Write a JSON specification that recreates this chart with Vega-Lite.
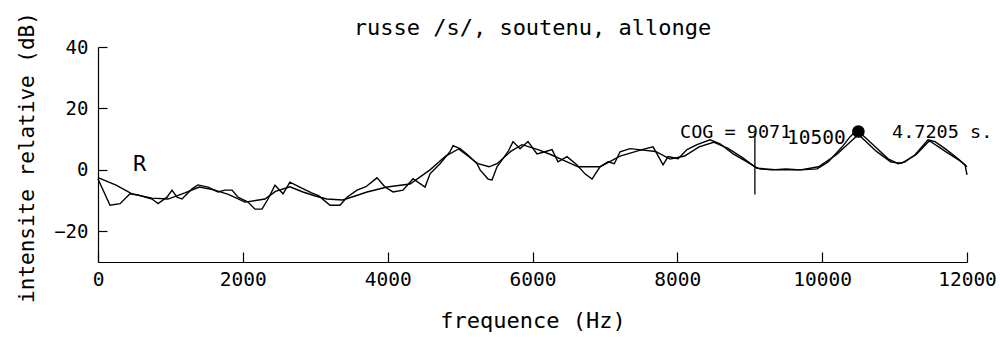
{
  "$schema": "https://vega.github.io/schema/vega-lite/v6.json",
  "autosize": "none",
  "width": 869,
  "height": 215,
  "padding": {"left": 98, "top": 47, "right": 33, "bottom": 77},
  "background": "white",
  "config": {
    "view": {"stroke": null},
    "font": "DejaVu Sans Mono",
    "axis": {
      "grid": false,
      "domainColor": "black",
      "tickColor": "black",
      "labelColor": "black",
      "titleColor": "black",
      "labelFont": "DejaVu Sans Mono",
      "titleFont": "DejaVu Sans Mono",
      "titleFontWeight": "normal",
      "domainWidth": 1.2,
      "tickWidth": 1.2
    }
  },
  "title": {
    "text": "russe /s/, soutenu, allonge",
    "font": "DejaVu Sans Mono",
    "fontSize": 22,
    "fontWeight": "normal",
    "color": "black",
    "anchor": "middle",
    "frame": "group",
    "baseline": "alphabetic",
    "offset": 0,
    "dy": 45
  },
  "datasets": {
    "spectrum": [
      {"series": "raw", "f": 0, "db": -3},
      {"series": "raw", "f": 166, "db": -11.5},
      {"series": "raw", "f": 304, "db": -11},
      {"series": "raw", "f": 442, "db": -7.8},
      {"series": "raw", "f": 552, "db": -8.2},
      {"series": "raw", "f": 746, "db": -9.5},
      {"series": "raw", "f": 829, "db": -11},
      {"series": "raw", "f": 953, "db": -8.9},
      {"series": "raw", "f": 1022, "db": -6.6},
      {"series": "raw", "f": 1091, "db": -8.9},
      {"series": "raw", "f": 1160, "db": -9.5},
      {"series": "raw", "f": 1298, "db": -6.2},
      {"series": "raw", "f": 1381, "db": -4.9},
      {"series": "raw", "f": 1519, "db": -5.6},
      {"series": "raw", "f": 1657, "db": -7.2},
      {"series": "raw", "f": 1754, "db": -6.6},
      {"series": "raw", "f": 1851, "db": -6.6},
      {"series": "raw", "f": 1933, "db": -8.9},
      {"series": "raw", "f": 2071, "db": -10.5},
      {"series": "raw", "f": 2168, "db": -12.8},
      {"series": "raw", "f": 2265, "db": -12.8},
      {"series": "raw", "f": 2348, "db": -9.5},
      {"series": "raw", "f": 2444, "db": -5},
      {"series": "raw", "f": 2555, "db": -7.8},
      {"series": "raw", "f": 2650, "db": -4},
      {"series": "raw", "f": 2800, "db": -5.8},
      {"series": "raw", "f": 2950, "db": -7.5},
      {"series": "raw", "f": 3050, "db": -8.5},
      {"series": "raw", "f": 3204, "db": -11.5},
      {"series": "raw", "f": 3342, "db": -11.5},
      {"series": "raw", "f": 3439, "db": -8.9},
      {"series": "raw", "f": 3577, "db": -6.6},
      {"series": "raw", "f": 3700, "db": -5.5},
      {"series": "raw", "f": 3853, "db": -2.6},
      {"series": "raw", "f": 3963, "db": -5.6},
      {"series": "raw", "f": 4074, "db": -7.2},
      {"series": "raw", "f": 4212, "db": -6.6},
      {"series": "raw", "f": 4350, "db": -2.9},
      {"series": "raw", "f": 4516, "db": -5.6},
      {"series": "raw", "f": 4585, "db": -1.3},
      {"series": "raw", "f": 4723, "db": 2},
      {"series": "raw", "f": 4861, "db": 5.9},
      {"series": "raw", "f": 4903, "db": 7.9},
      {"series": "raw", "f": 5000, "db": 6.9},
      {"series": "raw", "f": 5100, "db": 5},
      {"series": "raw", "f": 5234, "db": 2},
      {"series": "raw", "f": 5276, "db": 0},
      {"series": "raw", "f": 5386, "db": -3},
      {"series": "raw", "f": 5441, "db": -3.3},
      {"series": "raw", "f": 5510, "db": 1},
      {"series": "raw", "f": 5662, "db": 5.9},
      {"series": "raw", "f": 5731, "db": 9.2},
      {"series": "raw", "f": 5828, "db": 6.9},
      {"series": "raw", "f": 5938, "db": 9.2},
      {"series": "raw", "f": 6062, "db": 5.2},
      {"series": "raw", "f": 6173, "db": 5.9},
      {"series": "raw", "f": 6270, "db": 6.6},
      {"series": "raw", "f": 6352, "db": 2.6},
      {"series": "raw", "f": 6477, "db": 4.3},
      {"series": "raw", "f": 6615, "db": 1.6},
      {"series": "raw", "f": 6725, "db": -1.3},
      {"series": "raw", "f": 6822, "db": -3},
      {"series": "raw", "f": 6932, "db": 1},
      {"series": "raw", "f": 7043, "db": 2.6},
      {"series": "raw", "f": 7130, "db": 2},
      {"series": "raw", "f": 7209, "db": 5.9},
      {"series": "raw", "f": 7347, "db": 6.9},
      {"series": "raw", "f": 7500, "db": 6.5},
      {"series": "raw", "f": 7665, "db": 7.5},
      {"series": "raw", "f": 7803, "db": 1.6},
      {"series": "raw", "f": 7872, "db": 4.3},
      {"series": "raw", "f": 8010, "db": 3.6},
      {"series": "raw", "f": 8134, "db": 6.6},
      {"series": "raw", "f": 8272, "db": 8.2},
      {"series": "raw", "f": 8452, "db": 9.8},
      {"series": "raw", "f": 8590, "db": 8.5},
      {"series": "raw", "f": 8770, "db": 5.2},
      {"series": "raw", "f": 8963, "db": 2.6},
      {"series": "raw", "f": 9073, "db": 1},
      {"series": "raw", "f": 9142, "db": 0.3},
      {"series": "raw", "f": 9300, "db": 0},
      {"series": "raw", "f": 9500, "db": 0.3},
      {"series": "raw", "f": 9700, "db": 0},
      {"series": "raw", "f": 9930, "db": 0.3},
      {"series": "raw", "f": 10083, "db": 2.6},
      {"series": "raw", "f": 10276, "db": 7.5},
      {"series": "raw", "f": 10387, "db": 10.8},
      {"series": "raw", "f": 10480, "db": 13},
      {"series": "raw", "f": 10621, "db": 10},
      {"series": "raw", "f": 10773, "db": 6.6},
      {"series": "raw", "f": 10911, "db": 3.6},
      {"series": "raw", "f": 11049, "db": 2},
      {"series": "raw", "f": 11145, "db": 2.6},
      {"series": "raw", "f": 11283, "db": 4.9},
      {"series": "raw", "f": 11462, "db": 9.8},
      {"series": "raw", "f": 11559, "db": 9.2},
      {"series": "raw", "f": 11697, "db": 6.9},
      {"series": "raw", "f": 11877, "db": 3.6},
      {"series": "raw", "f": 11973, "db": 1.6},
      {"series": "raw", "f": 12000, "db": -1.6},
      {"series": "smooth", "f": 0, "db": -2.5},
      {"series": "smooth", "f": 250, "db": -5},
      {"series": "smooth", "f": 470, "db": -7.8},
      {"series": "smooth", "f": 746, "db": -9.2},
      {"series": "smooth", "f": 967, "db": -9.5},
      {"series": "smooth", "f": 1200, "db": -7.5},
      {"series": "smooth", "f": 1400, "db": -5.6},
      {"series": "smooth", "f": 1600, "db": -6.5},
      {"series": "smooth", "f": 1800, "db": -8},
      {"series": "smooth", "f": 2030, "db": -10.5},
      {"series": "smooth", "f": 2306, "db": -9.5},
      {"series": "smooth", "f": 2450, "db": -7},
      {"series": "smooth", "f": 2650, "db": -5.5},
      {"series": "smooth", "f": 2831, "db": -7.2},
      {"series": "smooth", "f": 3000, "db": -8.5},
      {"series": "smooth", "f": 3160, "db": -9.5},
      {"series": "smooth", "f": 3380, "db": -9.8},
      {"series": "smooth", "f": 3550, "db": -8.5},
      {"series": "smooth", "f": 3715, "db": -7.2},
      {"series": "smooth", "f": 3991, "db": -5.6},
      {"series": "smooth", "f": 4309, "db": -4.6},
      {"series": "smooth", "f": 4585, "db": 0},
      {"series": "smooth", "f": 4800, "db": 4.5},
      {"series": "smooth", "f": 4980, "db": 6.8},
      {"series": "smooth", "f": 5248, "db": 2},
      {"series": "smooth", "f": 5400, "db": 1},
      {"series": "smooth", "f": 5510, "db": 2},
      {"series": "smooth", "f": 5700, "db": 6},
      {"series": "smooth", "f": 5855, "db": 8.2},
      {"series": "smooth", "f": 6076, "db": 6.6},
      {"series": "smooth", "f": 6250, "db": 5},
      {"series": "smooth", "f": 6408, "db": 3.3},
      {"series": "smooth", "f": 6629, "db": 1},
      {"series": "smooth", "f": 6932, "db": 1},
      {"series": "smooth", "f": 7209, "db": 4.5},
      {"series": "smooth", "f": 7500, "db": 6.5},
      {"series": "smooth", "f": 7700, "db": 6},
      {"series": "smooth", "f": 7900, "db": 3.5},
      {"series": "smooth", "f": 8100, "db": 4.5},
      {"series": "smooth", "f": 8300, "db": 7.5},
      {"series": "smooth", "f": 8500, "db": 9},
      {"series": "smooth", "f": 8700, "db": 7},
      {"series": "smooth", "f": 8900, "db": 4},
      {"series": "smooth", "f": 9100, "db": 0.5},
      {"series": "smooth", "f": 9400, "db": 0},
      {"series": "smooth", "f": 9700, "db": 0},
      {"series": "smooth", "f": 9950, "db": 1},
      {"series": "smooth", "f": 10200, "db": 5},
      {"series": "smooth", "f": 10500, "db": 11.5},
      {"series": "smooth", "f": 10750, "db": 6},
      {"series": "smooth", "f": 10950, "db": 2.5},
      {"series": "smooth", "f": 11100, "db": 2.2},
      {"series": "smooth", "f": 11300, "db": 5},
      {"series": "smooth", "f": 11480, "db": 9.5},
      {"series": "smooth", "f": 11700, "db": 6},
      {"series": "smooth", "f": 11900, "db": 3},
      {"series": "smooth", "f": 12000, "db": 1}
    ],
    "cog": [{"f": 9071, "lo": -8, "hi": 12}],
    "peak": [{"f": 10500, "db": 12.5}],
    "labels": [
      {"f": 8037, "db": 10.5, "label": "COG = 9071", "size": 18.5},
      {"f": 9515, "db": 8.3, "label": "10500", "size": 19.5},
      {"f": 10965, "db": 10.5, "label": "4.7205 s.", "size": 18.5},
      {"f": 483, "db": -0.3, "label": "R", "size": 22}
    ]
  },
  "layer": [
    {
      "data": {"name": "spectrum"},
      "mark": {"type": "line", "color": "black", "strokeWidth": 1.4},
      "encoding": {
        "x": {
          "field": "f", "type": "quantitative",
          "scale": {"domain": [0, 12000], "nice": false, "zero": false},
          "axis": {
            "values": [0, 2000, 4000, 6000, 8000, 10000, 12000],
            "format": "d",
            "title": "frequence (Hz)",
            "titleFontSize": 22,
            "titleBaseline": "alphabetic",
            "titleY": 65,
            "labelFontSize": 19.5,
            "labelFlush": false,
            "tickSize": -10,
            "labelPadding": 18
          }
        },
        "y": {
          "field": "db", "type": "quantitative",
          "scale": {"domain": [-30, 40], "nice": false, "zero": false},
          "axis": {
            "values": [-20, 0, 20, 40],
            "format": "d",
            "title": "intensite relative (dB)",
            "titleFontSize": 21,
            "titleBaseline": "alphabetic",
            "titleAngle": -90,
            "titleX": -65,
            "titleY": 110,
            "titleAlign": "center",
            "labelFontSize": 19,
            "labelFlush": false,
            "tickSize": -9,
            "labelPadding": 19
          }
        },
        "detail": {"field": "series", "type": "nominal"}
      }
    },
    {
      "data": {"name": "cog"},
      "mark": {"type": "rule", "color": "black", "strokeWidth": 1.3},
      "encoding": {
        "x": {"field": "f", "type": "quantitative"},
        "y": {"field": "lo", "type": "quantitative"},
        "y2": {"field": "hi"}
      }
    },
    {
      "data": {"name": "peak"},
      "mark": {"type": "point", "filled": true, "color": "black", "opacity": 1, "size": 160},
      "encoding": {
        "x": {"field": "f", "type": "quantitative"},
        "y": {"field": "db", "type": "quantitative"}
      }
    },
    {
      "data": {"name": "labels"},
      "mark": {"type": "text", "align": "left", "baseline": "alphabetic", "color": "black", "font": "DejaVu Sans Mono"},
      "encoding": {
        "x": {"field": "f", "type": "quantitative"},
        "y": {"field": "db", "type": "quantitative"},
        "text": {"field": "label"},
        "size": {"field": "size", "type": "quantitative", "scale": null}
      }
    }
  ]
}
